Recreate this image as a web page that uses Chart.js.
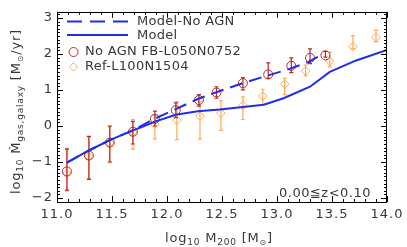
<!DOCTYPE html>
<html><head><meta charset="utf-8">
<script src="https://cdn.jsdelivr.net/npm/chart.js@4.4.1/dist/chart.umd.min.js"></script>
<style>html,body{margin:0;padding:0;background:#fff;overflow:hidden}</style>
</head><body>
<canvas id="c" width="407" height="247"></canvas>
<script>
// ---- data ----
const modelNoAgnX = [11.09, 11.29, 11.48, 11.69, 11.88, 12.08, 12.28, 12.48, 12.68, 12.88, 13.08, 13.28, 13.42];
const modelNoAgnY = [-1.02, -0.68, -0.39, -0.12, 0.19, 0.47, 0.75, 0.97, 1.18, 1.37, 1.55, 1.77, 2.00];

const modelX = [11.09, 11.29, 11.48, 11.69, 11.77, 11.89, 12.08, 12.28, 12.48, 12.69, 12.88, 13.06, 13.30, 13.48, 13.72, 14.00];
const modelY = [-1.02, -0.68, -0.39, -0.12, -0.03, 0.12, 0.31, 0.41, 0.46, 0.53, 0.59, 0.77, 1.09, 1.50, 1.82, 2.11];

const noAgnFbX  = [11.09, 11.29, 11.48, 11.69, 11.89, 12.08, 12.29, 12.45, 12.69, 12.92, 13.13, 13.30, 13.44];
const noAgnFbY  = [-1.26, -0.82, -0.46, -0.16, 0.20, 0.44, 0.72, 0.93, 1.19, 1.43, 1.67, 1.89, 1.96];
const noAgnFbLo = [-1.78, -1.48, -1.00, -0.50, 0.00, 0.23, 0.55, 0.77, 1.00, 1.32, 1.48, 1.73, 1.91];
const noAgnFbHi = [-0.64, -0.29, 0.00, 0.13, 0.41, 0.64, 0.87, 1.09, 1.34, 1.75, 1.89, 2.14, 2.07];

const refX  = [11.09, 11.29, 11.48, 11.69, 11.89, 12.09, 12.30, 12.49, 12.69, 12.87, 13.07, 13.26, 13.48, 13.69, 13.90];
const refY  = [-1.32, -0.85, -0.47, -0.17, 0.05, 0.16, 0.27, 0.36, 0.57, 0.83, 1.16, 1.53, 1.80, 2.20, 2.46];
const refLo = [-1.80, -1.45, -1.02, -0.64, -0.36, -0.38, -0.36, -0.12, 0.18, 0.59, 0.87, 1.39, 1.64, 2.14, 2.34];
const refHi = [-0.62, -0.30, -0.02, 0.18, 0.30, 0.68, 0.68, 0.70, 0.81, 1.02, 1.32, 1.69, 2.05, 2.51, 2.66];

const legendLabels = ['Model-No AGN', 'Model', 'No AGN FB-L050N0752', 'Ref-L100N1504'];
const annotationText = '0.00\u2266z<0.10';

// ---- styles ----
const BLUE = '#1f2fe8';
const RED = '#b52a2a';
const ORANGE = '#ffaa55';
const TEXT = '#383838';
const FONT = '"DejaVu Sans", sans-serif';

const pts = (xs, ys) => xs.map((x, i) => ({x, y: ys[i]}));

function richWidth(ctx, segs) {
  let w = 0;
  for (const s of segs) { ctx.font = s.size + 'px ' + FONT; w += ctx.measureText(s.t).width; }
  return w;
}
function drawRich(ctx, segs, x, y) {
  let cx = x;
  for (const s of segs) {
    ctx.font = s.size + 'px ' + FONT;
    ctx.fillText(s.t, cx, y + (s.dy || 0));
    cx += ctx.measureText(s.t).width;
  }
}

const framePlugin = {
  id: 'frame',
  beforeDraw(chart) { chart.ctx.letterSpacing = '1px'; },
  beforeDatasetDraw(chart, args) {
    const ds = chart.data.datasets[args.index];
    if (!ds.errLo) return;
    const ctx = chart.ctx, xs = chart.scales.x, ys = chart.scales.y;
    ctx.save();
    ctx.strokeStyle = ds.errColor;
    ctx.lineWidth = 1.2;
    ds.data.forEach((p, i) => {
      const px = xs.getPixelForValue(p.x);
      const lo = ys.getPixelForValue(ds.errLo[i]);
      const hi = ys.getPixelForValue(ds.errHi[i]);
      ctx.beginPath();
      ctx.moveTo(px, lo); ctx.lineTo(px, hi);
      ctx.moveTo(px - 2, lo); ctx.lineTo(px + 2, lo);
      ctx.moveTo(px - 2, hi); ctx.lineTo(px + 2, hi);
      ctx.stroke();
    });
    ctx.restore();
  },
  afterDraw(chart) {
    const ctx = chart.ctx, a = chart.chartArea, xs = chart.scales.x, ys = chart.scales.y;
    ctx.save();
    // frame
    ctx.strokeStyle = '#000';
    ctx.lineWidth = 1;
    ctx.strokeRect(Math.round(a.left) + 0.5, Math.round(a.top) + 0.5, Math.round(a.right - a.left) - 1, Math.round(a.bottom - a.top));
    // ticks
    ctx.beginPath();
    for (let i = 110; i <= 140; i++) {
      const px = Math.round(xs.getPixelForValue(i / 10)) + 0.5;
      const len = i % 5 === 0 ? 6 : 3;
      ctx.moveTo(px, a.bottom); ctx.lineTo(px, a.bottom - len);
      ctx.moveTo(px, a.top); ctx.lineTo(px, a.top + len);
    }
    for (let i = -21; i <= 31; i++) {
      const v = i / 10;
      if (v < ys.min || v > ys.max) continue;
      const py = Math.round(ys.getPixelForValue(v)) + 0.5;
      const len = i % 10 === 0 ? 6 : 3;
      ctx.moveTo(a.left, py); ctx.lineTo(a.left + len, py);
      ctx.moveTo(a.right, py); ctx.lineTo(a.right - len, py);
    }
    ctx.stroke();

    // legend
    ctx.lineWidth = 2;
    ctx.strokeStyle = BLUE;
    ctx.setLineDash([15, 8]);
    ctx.beginPath(); ctx.moveTo(67, 21.5); ctx.lineTo(128, 21.5); ctx.stroke();
    ctx.setLineDash([]);
    ctx.beginPath(); ctx.moveTo(67, 35); ctx.lineTo(128, 35); ctx.stroke();
    ctx.lineWidth = 1;
    ctx.strokeStyle = RED;
    ctx.beginPath(); ctx.arc(73.5, 52, 4.5, 0, Math.PI * 2); ctx.stroke();
    ctx.strokeStyle = ORANGE;
    ctx.beginPath();
    ctx.moveTo(73.5, 62.5); ctx.lineTo(77.5, 66.8); ctx.lineTo(73.5, 71.1); ctx.lineTo(69.5, 66.8); ctx.closePath();
    ctx.stroke();

    ctx.fillStyle = TEXT;
    ctx.letterSpacing = '0.3px';
    ctx.textBaseline = 'middle';
    ctx.textAlign = 'left';
    ctx.font = '13px ' + FONT;
    ctx.fillText(legendLabels[0], 137, 21.5);
    ctx.fillText(legendLabels[1], 137, 35.5);
    ctx.fillText(legendLabels[2], 85, 52);
    ctx.fillText(legendLabels[3], 85, 67);

    // annotation
    ctx.textAlign = 'right';
    ctx.textBaseline = 'alphabetic';
    ctx.letterSpacing = '0.5px';
    ctx.fillText(annotationText, 371, 197);

    // axis titles
    ctx.textAlign = 'left';
    ctx.letterSpacing = '0.8px';
    const xt = [
      {t: 'log', size: 13}, {t: '10', size: 9, dy: 3}, {t: ' M', size: 13},
      {t: '200', size: 9, dy: 3}, {t: ' [M', size: 13}, {t: '\u2299', size: 8, dy: 3}, {t: ']', size: 13}
    ];
    const xw = richWidth(ctx, xt);
    drawRich(ctx, xt, 219 - xw / 2, 242);

    const yt = [
      {t: 'log', size: 13}, {t: '10', size: 9, dy: 3}, {t: ' \u1E40', size: 13},
      {t: 'gas,galaxy', size: 9, dy: 3}, {t: ' [M', size: 13}, {t: '\u2299', size: 8, dy: 3}, {t: '/yr]', size: 13}
    ];
    const yw = richWidth(ctx, yt);
    ctx.translate(20, 111.5);
    ctx.rotate(-Math.PI / 2);
    drawRich(ctx, yt, -yw / 2, 0);
    ctx.restore();
  }
};

new Chart(document.getElementById('c'), {
  type: 'scatter',
  data: {
    datasets: [
      {label: legendLabels[0], data: pts(modelNoAgnX, modelNoAgnY), showLine: true, borderColor: BLUE,
       borderWidth: 2, borderDash: [13, 7], pointRadius: 0, fill: false, tension: 0},
      {label: legendLabels[1], data: pts(modelX, modelY), showLine: true, borderColor: BLUE,
       borderWidth: 2, pointRadius: 0, fill: false, tension: 0},
      {label: legendLabels[2], data: pts(noAgnFbX, noAgnFbY), pointStyle: 'circle', pointRadius: 4.5,
       borderColor: RED, backgroundColor: 'rgba(0,0,0,0)', borderWidth: 1,
       errLo: noAgnFbLo, errHi: noAgnFbHi, errColor: RED},
      {label: legendLabels[3], data: pts(refX, refY), pointStyle: 'rectRot', pointRadius: 4.3,
       borderColor: ORANGE, backgroundColor: 'rgba(0,0,0,0)', borderWidth: 1,
       errLo: refLo, errHi: refHi, errColor: ORANGE}
    ]
  },
  options: {
    responsive: false, animation: false, events: [],
    layout: {padding: {left: 0, right: 20, top: 9, bottom: 0}},
    plugins: {legend: {display: false}, tooltip: {enabled: false}},
    scales: {
      x: {
        type: 'linear', min: 11, max: 14,
        afterFit(s) { s.height = 45; },
        grid: {display: false, drawTicks: false}, border: {display: false},
        ticks: {stepSize: 0.5, padding: 5, maxRotation: 0, autoSkip: false, includeBounds: false,
                color: TEXT, font: {family: FONT, size: 13}, callback: v => Number(v).toFixed(1)}
      },
      y: {
        type: 'linear', min: -2.11, max: 3.17,
        afterFit(s) { s.width = 57; },
        grid: {display: false, drawTicks: false}, border: {display: false},
        ticks: {stepSize: 1, padding: 4, autoSkip: false, includeBounds: false,
                color: TEXT, font: {family: FONT, size: 13},
                callback: v => (v < 0 ? '\u2212' : '') + Math.abs(Math.round(v))}
      }
    }
  },
  plugins: [framePlugin]
});
</script>
</body></html>
